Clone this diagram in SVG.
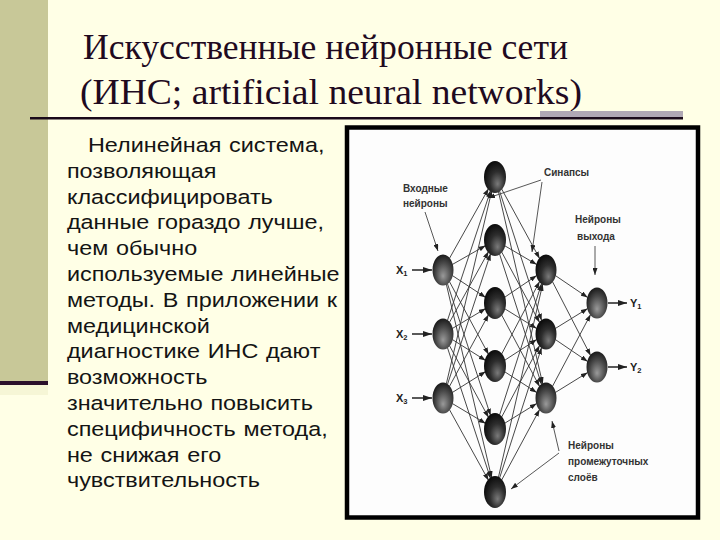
<svg xmlns="http://www.w3.org/2000/svg" width="720" height="540" viewBox="0 0 720 540">
<defs>
<style>
.title{font-family:"Liberation Serif","Times New Roman",serif;font-size:35px;fill:#1f0a1f}
.body{font-family:"Liberation Sans",Arial,sans-serif;font-size:19.5px;fill:#141414;word-spacing:1px}
.lbl{font-family:"Liberation Sans",Arial,sans-serif;font-size:10px;fill:#333;font-weight:bold}
.io{font-family:"Liberation Sans",Arial,sans-serif;font-size:11px;fill:#222;font-weight:bold}
.sub{font-size:7.5px}
.e{stroke:#333;stroke-width:0.9;fill:none;marker-end:url(#ah)}
.lead{stroke:#444;stroke-width:0.9;fill:none;marker-end:url(#ah)}
.ioa{stroke:#222;stroke-width:1.5;fill:none;marker-end:url(#ahb)}
.n1{fill:url(#gm)}
.n2{fill:url(#gd)}
</style>
<radialGradient id="gd" cx="0.6" cy="0.62" r="0.6" fx="0.62" fy="0.72">
<stop offset="0" stop-color="#7a7a7a"/>
<stop offset="0.55" stop-color="#2e2e2e"/>
<stop offset="1" stop-color="#0e0e0e"/>
</radialGradient>
<radialGradient id="gm" cx="0.55" cy="0.6" r="0.6" fx="0.5" fy="0.7">
<stop offset="0" stop-color="#9a9a9a"/>
<stop offset="0.6" stop-color="#4a4a4a"/>
<stop offset="1" stop-color="#1a1a1a"/>
</radialGradient>
<marker id="ah" viewBox="0 0 7 5" refX="7" refY="2.5" markerWidth="7" markerHeight="5" markerUnits="userSpaceOnUse" orient="auto"><path d="M0,0L7,2.5L0,5z" fill="#222"/></marker>
<marker id="ahb" viewBox="0 0 9 6" refX="9" refY="3" markerWidth="9" markerHeight="6" markerUnits="userSpaceOnUse" orient="auto"><path d="M0,0L9,3L0,6z" fill="#222"/></marker>
</defs>
<rect width="720" height="540" fill="#ffffe6"/>
<rect x="0" y="0" width="48" height="382" fill="#c8c898"/>
<rect x="0" y="381" width="48" height="4" fill="#2a0f2a"/>
<rect x="0" y="385" width="48" height="10" fill="#f6f6d6"/>

<g id="title">
<text class="title" x="83" y="59" textLength="485" lengthAdjust="spacingAndGlyphs">Искусственные нейронные сети</text>
<text class="title" x="80" y="104" textLength="502" lengthAdjust="spacingAndGlyphs">(ИНС; artificial neural networks)</text>
<rect x="540" y="111" width="143" height="6.5" fill="#b0a8b4"/>
<rect x="30" y="117" width="653" height="2.5" fill="#1a0a1a"/>
</g>

<g id="body-text" transform="scale(1.2,1)">
<text class="body" x="73.3" y="152">Нелинейная система,</text>
<text class="body" x="55.8" y="177.8">позволяющая</text>
<text class="body" x="55.8" y="203.6">классифицировать</text>
<text class="body" x="55.8" y="229.4">данные гораздо лучше,</text>
<text class="body" x="55.8" y="255.2">чем обычно</text>
<text class="body" x="55.8" y="281">используемые линейные</text>
<text class="body" x="55.8" y="306.8">методы. В приложении к</text>
<text class="body" x="55.8" y="332.6">медицинской</text>
<text class="body" x="55.8" y="358.4">диагностике ИНС дают</text>
<text class="body" x="55.8" y="384.2">возможность</text>
<text class="body" x="55.8" y="410">значительно повысить</text>
<text class="body" x="55.8" y="435.8">специфичность метода,</text>
<text class="body" x="55.8" y="461.6">не снижая его</text>
<text class="body" x="55.8" y="487.4">чувствительность</text>
</g>

<rect id="frame" x="347" y="127.5" width="351" height="390" fill="#fdfdfd" stroke="#000" stroke-width="4.5"/>

<g id="connectors">
<line class="e" x1="449.4" y1="258.5" x2="488.6" y2="188.5"/>
<line class="e" x1="452.3" y1="264.5" x2="485.7" y2="245.5"/>
<line class="e" x1="452.3" y1="275.5" x2="485.7" y2="297.5"/>
<line class="e" x1="449.4" y1="281.5" x2="488.6" y2="354.5"/>
<line class="e" x1="447.4" y1="283.5" x2="490.6" y2="415.6"/>
<line class="e" x1="446.3" y1="284.1" x2="491.7" y2="477.9"/>
<line class="e" x1="447.4" y1="320.6" x2="490.6" y2="190.5"/>
<line class="e" x1="449.4" y1="322.5" x2="488.6" y2="251.5"/>
<line class="e" x1="452.3" y1="328.5" x2="485.7" y2="308.5"/>
<line class="e" x1="452.3" y1="339.5" x2="485.7" y2="360.5"/>
<line class="e" x1="449.4" y1="345.5" x2="488.6" y2="417.5"/>
<line class="e" x1="447.4" y1="347.5" x2="490.6" y2="478.6"/>
<line class="e" x1="446.3" y1="383.9" x2="491.7" y2="191.1"/>
<line class="e" x1="447.4" y1="384.6" x2="490.6" y2="253.5"/>
<line class="e" x1="449.4" y1="386.5" x2="488.6" y2="314.5"/>
<line class="e" x1="452.3" y1="392.5" x2="485.7" y2="371.5"/>
<line class="e" x1="452.3" y1="403.5" x2="485.7" y2="423.5"/>
<line class="e" x1="449.4" y1="409.5" x2="488.6" y2="480.5"/>

<line class="e" x1="501.4" y1="188.5" x2="539.6" y2="258.5"/>
<line class="e" x1="499.4" y1="190.5" x2="541.6" y2="320.6"/>
<line class="e" x1="498.3" y1="191.1" x2="542.7" y2="383.9"/>
<line class="e" x1="504.3" y1="245.5" x2="536.7" y2="264.5"/>
<line class="e" x1="501.4" y1="251.5" x2="539.6" y2="322.5"/>
<line class="e" x1="499.4" y1="253.5" x2="541.6" y2="384.6"/>
<line class="e" x1="504.3" y1="297.5" x2="536.7" y2="275.5"/>
<line class="e" x1="504.3" y1="308.5" x2="536.7" y2="328.5"/>
<line class="e" x1="501.4" y1="314.5" x2="539.6" y2="386.5"/>
<line class="e" x1="501.4" y1="354.5" x2="539.6" y2="281.5"/>
<line class="e" x1="504.3" y1="360.5" x2="536.7" y2="339.5"/>
<line class="e" x1="504.3" y1="371.5" x2="536.7" y2="392.5"/>
<line class="e" x1="499.4" y1="415.6" x2="541.6" y2="283.5"/>
<line class="e" x1="501.4" y1="417.5" x2="539.6" y2="345.5"/>
<line class="e" x1="504.3" y1="423.5" x2="536.7" y2="403.5"/>
<line class="e" x1="498.3" y1="477.9" x2="542.7" y2="284.1"/>
<line class="e" x1="499.4" y1="478.6" x2="541.6" y2="347.5"/>
<line class="e" x1="501.4" y1="480.5" x2="539.6" y2="409.5"/>

<line class="e" x1="555.3" y1="275.5" x2="587.7" y2="297.5"/>
<line class="e" x1="552.4" y1="281.5" x2="590.6" y2="355.5"/>
<line class="e" x1="555.3" y1="328.5" x2="587.7" y2="308.5"/>
<line class="e" x1="555.3" y1="339.5" x2="587.7" y2="361.5"/>
<line class="e" x1="552.4" y1="386.5" x2="590.6" y2="314.5"/>
<line class="e" x1="555.3" y1="392.5" x2="587.7" y2="372.5"/>

<line class="ioa" x1="412" y1="270" x2="432" y2="270"/>
<line class="ioa" x1="412" y1="334" x2="432" y2="334"/>
<line class="ioa" x1="412" y1="398" x2="432" y2="398"/>
<line class="ioa" x1="608" y1="303" x2="627" y2="303"/>
<line class="ioa" x1="608" y1="367" x2="627" y2="367"/>

<line class="lead" x1="425" y1="212" x2="438" y2="251"/>
<line class="lead" x1="541" y1="180" x2="488" y2="198"/>
<line class="lead" x1="542" y1="182" x2="532" y2="252"/>
<line class="lead" x1="595" y1="246" x2="595" y2="275"/>
<line class="lead" x1="559" y1="451" x2="552" y2="421"/>
<line class="lead" x1="559" y1="453" x2="511" y2="489"/>
</g>

<g id="in1"><ellipse class="n1" cx="443" cy="270" rx="10.5" ry="15.5"/></g>
<g id="in2"><ellipse class="n1" cx="443" cy="334" rx="10.5" ry="15.5"/></g>
<g id="in3"><ellipse class="n1" cx="443" cy="398" rx="10.5" ry="15.5"/></g>
<g id="h1"><ellipse class="n2" cx="495" cy="177" rx="11" ry="16"/></g>
<g id="h2"><ellipse class="n2" cx="495" cy="240" rx="11" ry="16"/></g>
<g id="h3"><ellipse class="n2" cx="495" cy="303" rx="11" ry="16"/></g>
<g id="h4"><ellipse class="n2" cx="495" cy="366" rx="11" ry="16"/></g>
<g id="h5"><ellipse class="n2" cx="495" cy="429" rx="11" ry="16"/></g>
<g id="h6"><ellipse class="n2" cx="495" cy="492" rx="11" ry="16"/></g>
<g id="m1"><ellipse class="n2" cx="546" cy="270" rx="10.5" ry="15.5"/></g>
<g id="m2"><ellipse class="n2" cx="546" cy="334" rx="10.5" ry="15.5"/></g>
<g id="m3"><ellipse class="n1" cx="546" cy="398" rx="10.5" ry="15.5"/></g>
<g id="o1"><ellipse class="n1" cx="597" cy="303" rx="10.5" ry="15.5"/></g>
<g id="o2"><ellipse class="n1" cx="597" cy="367" rx="10.5" ry="15.5"/></g>

<g id="labels">
<text class="io" x="396" y="274">X<tspan class="sub" dy="2">1</tspan></text>
<text class="io" x="396" y="338">X<tspan class="sub" dy="2">2</tspan></text>
<text class="io" x="396" y="402">X<tspan class="sub" dy="2">3</tspan></text>
<text class="io" x="630" y="307">Y<tspan class="sub" dy="2">1</tspan></text>
<text class="io" x="630" y="371">Y<tspan class="sub" dy="2">2</tspan></text>
<text class="lbl" x="403" y="192">Входные</text>
<text class="lbl" x="403" y="207">нейроны</text>
<text class="lbl" x="544" y="176">Синапсы</text>
<text class="lbl" x="575" y="223">Нейроны</text>
<text class="lbl" x="577" y="240">выхода</text>
<text class="lbl" x="568" y="449">Нейроны</text>
<text class="lbl" x="568" y="465">промежуточных</text>
<text class="lbl" x="568" y="481">слоёв</text>
</g>
</svg>
